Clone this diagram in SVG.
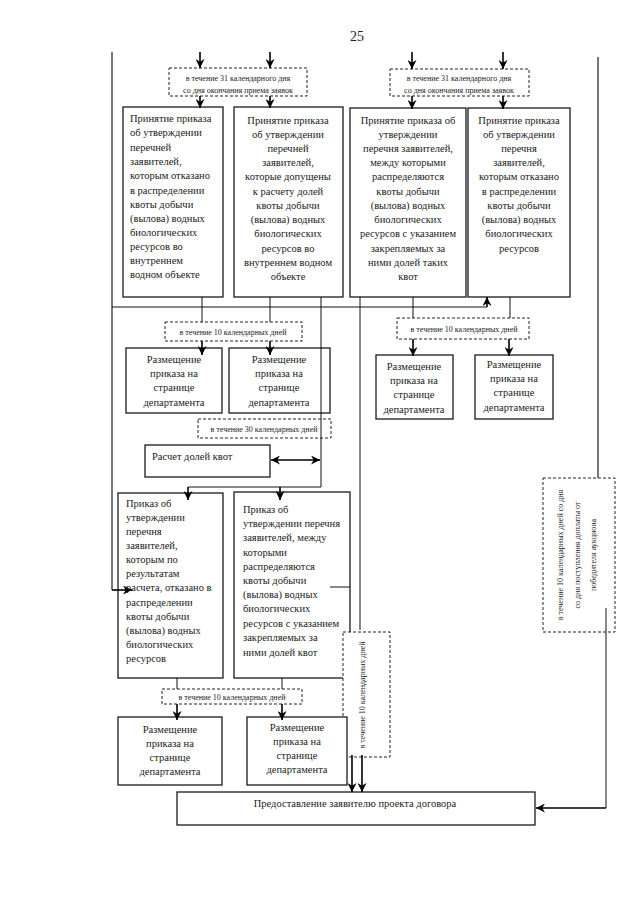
<svg xmlns="http://www.w3.org/2000/svg" width="640" height="905" viewBox="0 0 640 905">
<style>
.box{fill:#fff;stroke:#1a1a1a;stroke-width:1.3}
.dash{fill:#fff;stroke:#222;stroke-width:1;stroke-dasharray:3 2}
.ln{fill:none;stroke:#111;stroke-width:1}
.side{fill:none;stroke:#555;stroke-width:1.6}
.arr{fill:none;stroke:#000;stroke-width:1.6;marker-end:url(#ah)}
.dbl{fill:none;stroke:#000;stroke-width:1.6;marker-end:url(#ah);marker-start:url(#ah)}
text{font-family:"Liberation Serif","Times New Roman",serif;fill:#222}
.t{font-size:10.5px}
.c{text-anchor:middle}
.s{font-size:8px;text-anchor:middle}
</style>
<defs>
<marker id="ah" viewBox="0 0 10 10" refX="10" refY="5" markerWidth="9" markerHeight="9" markerUnits="userSpaceOnUse" orient="auto-start-reverse">
<path d="M0,0 L10,5 L0,10 L3,5 z" fill="#000"/>
</marker>
</defs>
<rect width="640" height="905" fill="#fff"/>
<text x="357" y="41" style="font-size:14px;text-anchor:middle">25</text>

<g id="d1"><rect class="dash" x="169" y="68" width="138" height="28"/>
<text class="s" x="238" y="81">в течение 31 календарного дня</text>
<text class="s" x="238" y="93">со дня окончания приема заявок</text></g>
<g id="d2"><rect class="dash" x="390" y="69" width="139" height="27"/>
<text class="s" x="459" y="81">в течение 31 календарного дня</text>
<text class="s" x="459" y="93">со дня окончания приема заявок</text></g>

<g id="bA"><rect class="box" x="123" y="107" width="100" height="190"/>
<text class="t" x="130" y="122">Принятие приказа</text>
<text class="t" x="130" y="136">об утверждении</text>
<text class="t" x="130" y="151">перечней</text>
<text class="t" x="130" y="165">заявителей,</text>
<text class="t" x="130" y="179">которым отказано</text>
<text class="t" x="130" y="194">в распределении</text>
<text class="t" x="130" y="208">квоты добычи</text>
<text class="t" x="130" y="222">(вылова) водных</text>
<text class="t" x="130" y="236">биологических</text>
<text class="t" x="130" y="250">ресурсов во</text>
<text class="t" x="130" y="264">внутреннем</text>
<text class="t" x="130" y="278">водном объекте</text></g>

<g id="bB"><rect class="box" x="234" y="107" width="109" height="190"/>
<text class="t c" x="288" y="124">Принятие приказа</text>
<text class="t c" x="288" y="138">об утверждении</text>
<text class="t c" x="288" y="152">перечней</text>
<text class="t c" x="288" y="166">заявителей,</text>
<text class="t c" x="288" y="180">которые допущены</text>
<text class="t c" x="288" y="195">к расчету долей</text>
<text class="t c" x="288" y="209">квоты добычи</text>
<text class="t c" x="288" y="223">(вылова) водных</text>
<text class="t c" x="288" y="237">биологических</text>
<text class="t c" x="288" y="252">ресурсов во</text>
<text class="t c" x="288" y="266">внутреннем водном</text>
<text class="t c" x="288" y="280">объекте</text></g>

<g id="bC"><rect class="box" x="350" y="108" width="116" height="189"/>
<text class="t c" x="408" y="124">Принятие приказа об</text>
<text class="t c" x="408" y="138">утверждении</text>
<text class="t c" x="408" y="152">перечня заявителей,</text>
<text class="t c" x="408" y="166">между которыми</text>
<text class="t c" x="408" y="180">распределяются</text>
<text class="t c" x="408" y="195">квоты добычи</text>
<text class="t c" x="408" y="209">(вылова) водных</text>
<text class="t c" x="408" y="223">биологических</text>
<text class="t c" x="408" y="237">ресурсов с указанием</text>
<text class="t c" x="408" y="252">закрепляемых за</text>
<text class="t c" x="408" y="266">ними долей таких</text>
<text class="t c" x="408" y="280">квот</text></g>

<g id="bD"><rect class="box" x="468" y="108" width="102" height="189"/>
<text class="t c" x="519" y="124">Принятие приказа</text>
<text class="t c" x="519" y="138">об утверждении</text>
<text class="t c" x="519" y="152">перечня</text>
<text class="t c" x="519" y="166">заявителей,</text>
<text class="t c" x="519" y="180">которым отказано</text>
<text class="t c" x="519" y="195">в распределении</text>
<text class="t c" x="519" y="209">квоты добычи</text>
<text class="t c" x="519" y="223">(вылова) водных</text>
<text class="t c" x="519" y="237">биологических</text>
<text class="t c" x="519" y="252">ресурсов</text></g>

<g id="d3"><rect class="dash" x="165" y="322" width="137" height="19"/>
<text class="s" x="233" y="335">в течение 10 календарных дней</text></g>
<g id="d4"><rect class="dash" x="397" y="318" width="132" height="21"/>
<text class="s" x="464" y="332">в течение 10 календарных дней</text></g>

<g id="p1"><rect class="box" x="126" y="348" width="96" height="65"/>
<text class="t c" x="174" y="363">Размещение</text>
<text class="t c" x="174" y="377">приказа на</text>
<text class="t c" x="174" y="391">странице</text>
<text class="t c" x="174" y="406">департамента</text></g>
<g id="p2"><rect class="box" x="229" y="348" width="101" height="65"/>
<text class="t c" x="279" y="363">Размещение</text>
<text class="t c" x="279" y="377">приказа на</text>
<text class="t c" x="279" y="391">странице</text>
<text class="t c" x="279" y="406">департамента</text></g>
<g id="p3"><rect class="box" x="376" y="355" width="77" height="64"/>
<text class="t c" x="414" y="370">Размещение</text>
<text class="t c" x="414" y="384">приказа на</text>
<text class="t c" x="414" y="398">странице</text>
<text class="t c" x="414" y="413">департамента</text></g>
<g id="p4"><rect class="box" x="475" y="355" width="78" height="64"/>
<text class="t c" x="514" y="368">Размещение</text>
<text class="t c" x="514" y="382">приказа на</text>
<text class="t c" x="514" y="396">странице</text>
<text class="t c" x="514" y="411">департамента</text></g>

<g id="d5"><rect class="dash" x="198" y="419" width="133" height="19"/>
<text class="s" x="264" y="432">в течение 30 календарных дней</text></g>

<g id="calc"><rect class="box" x="145" y="445" width="125" height="32"/>
<text class="t" x="152" y="460">Расчет долей квот</text></g>

<g id="bE"><rect class="box" x="118" y="493" width="105" height="185"/>
<text class="t" x="126" y="507">Приказ об</text>
<text class="t" x="126" y="521">утверждении</text>
<text class="t" x="126" y="535">перечня</text>
<text class="t" x="126" y="549">заявителей,</text>
<text class="t" x="126" y="563">которым по</text>
<text class="t" x="126" y="577">результатам</text>
<text class="t" x="126" y="591">расчета, отказано в</text>
<text class="t" x="126" y="606">распределении</text>
<text class="t" x="126" y="620">квоты добычи</text>
<text class="t" x="126" y="634">(вылова) водных</text>
<text class="t" x="126" y="648">биологических</text>
<text class="t" x="126" y="662">ресурсов</text></g>

<g id="bF"><rect class="box" x="234" y="492" width="116" height="186"/>
<text class="t" x="243" y="513">Приказ об</text>
<text class="t" x="243" y="527">утверждении перечня</text>
<text class="t" x="243" y="541">заявителей, между</text>
<text class="t" x="243" y="556">которыми</text>
<text class="t" x="243" y="570">распределяются</text>
<text class="t" x="243" y="584">квоты добычи</text>
<text class="t" x="243" y="598">(вылова) водных</text>
<text class="t" x="243" y="612">биологических</text>
<text class="t" x="243" y="627">ресурсов с указанием</text>
<text class="t" x="243" y="641">закрепляемых за</text>
<text class="t" x="243" y="656">ними долей квот</text></g>

<g id="dR"><rect class="dash" x="543" y="478" width="72" height="154"/>
<text class="s" transform="translate(563,555) rotate(-90)">в течение 10 календарных дней со дня</text>
<text class="s" transform="translate(580,555) rotate(-90)">со дня поступления доплаты от</text>
<text class="s" transform="translate(596,555) rotate(-90)">победителя аукциона</text></g>

<g id="d7"><rect class="dash" x="162" y="689" width="140" height="15"/>
<text class="s" x="232" y="700">в течение 10 календарных дней</text></g>

<g id="d6"><rect class="dash" x="343" y="632" width="47" height="125"/>
<text class="s" transform="translate(365,695) rotate(-90)">в течение 10 календарных дней</text></g>

<g id="p5"><rect class="box" x="118" y="717" width="104" height="68"/>
<text class="t c" x="170" y="733">Размещение</text>
<text class="t c" x="170" y="747">приказа на</text>
<text class="t c" x="170" y="761">странице</text>
<text class="t c" x="170" y="775">департамента</text></g>
<g id="p6"><rect class="box" x="247" y="717" width="100" height="68"/>
<text class="t c" x="297" y="731">Размещение</text>
<text class="t c" x="297" y="745">приказа на</text>
<text class="t c" x="297" y="759">странице</text>
<text class="t c" x="297" y="773">департамента</text></g>

<g id="final"><rect class="box" x="177" y="792" width="358" height="33"/>
<text class="t c" x="355" y="807">Предоставление заявителю проекта договора</text></g>

<g id="connectors">
<path class="side" d="M112,52 V590"/>
<path class="side" d="M598,57 V478"/>
<path class="arr" d="M112,590 H132"/>
<path class="arr" d="M200,52 V68"/>
<path class="arr" d="M270,52 V68"/>
<path class="arr" d="M412,52 V69"/>
<path class="arr" d="M503,52 V69"/>
<path class="arr" d="M200,96 V108"/>
<path class="arr" d="M270,96 V108"/>
<path class="arr" d="M412,96 V109"/>
<path class="arr" d="M503,96 V109"/>
<path class="ln" d="M112,307 H487"/>
<path class="arr" d="M487,307 V297"/>
<path class="ln" d="M202,297 V322 M270,297 V322 M321,297 V487 M360,297 V630 M413,297 V318 M510,297 V318"/>
<path class="arr" d="M202,341 V355"/>
<path class="arr" d="M270,341 V355"/>
<path class="arr" d="M413,339 V356"/>
<path class="arr" d="M509,339 V356"/>
<path class="dbl" d="M271,460 H320"/>
<path class="ln" d="M188,487 H321"/>
<path class="arr" d="M188,487 V500"/>
<path class="arr" d="M280,487 V500"/>
<path class="ln" d="M330,587 H350"/>
<path class="ln" d="M177,678 V689 M282,678 V689"/>
<path class="arr" d="M177,704 V720"/>
<path class="arr" d="M282,704 V720"/>
<path class="arr" d="M352,755 V792"/>
<path class="arr" d="M362,755 V792"/>
<path class="ln" d="M606,608 V808"/>
<path class="arr" d="M606,808 H536"/>
</g>
</svg>
